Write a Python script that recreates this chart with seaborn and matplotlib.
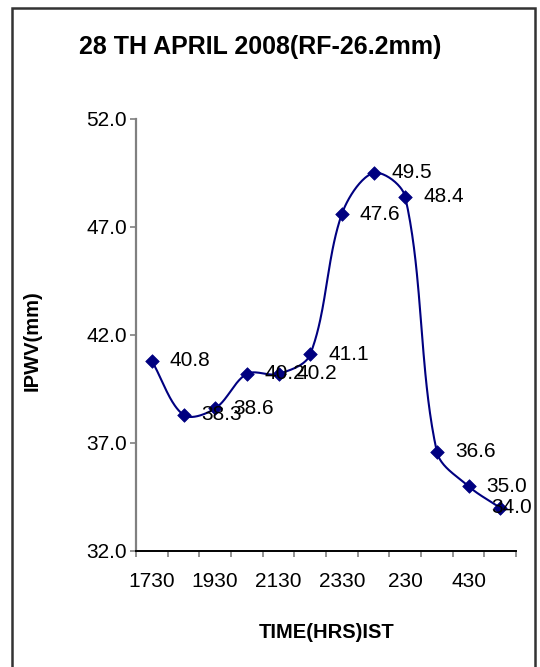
import numpy as np
import pandas as pd
import seaborn as sns
import matplotlib
matplotlib.use("Agg")
import matplotlib.pyplot as plt
from matplotlib.patches import Rectangle

# Observation times (IST) and integrated precipitable water vapour
times = ["1730", "1830", "1930", "2030", "2130", "2230",
         "2330", "130", "230", "330", "430", "530"]
ipwv = [40.8, 38.3, 38.6, 40.2, 40.2, 41.1,
        47.6, 49.5, 48.4, 36.6, 35.0, 34.0]
ytick_values = [32.0, 37.0, 42.0, 47.0, 52.0]

title = "28 TH APRIL 2008(RF-26.2mm)"
xlabel = "TIME(HRS)IST"
ylabel = "IPWV(mm)"

sns.set_theme(style="white")
plt.rcParams["font.family"] = ["Liberation Sans", "DejaVu Sans"]
plt.rcParams.update({"text.color": "black", "axes.labelcolor": "black",
                     "xtick.color": "black", "ytick.color": "black"})

NAVY = "#000080"

df = pd.DataFrame({"pos": np.arange(len(times)), "ipwv": ipwv, "time": times})


def smooth_curve_px(pts, n=40):
    """Length-weighted cubic Bezier smoothing through points given in pixels."""
    p = np.vstack([pts[0], pts, pts[-1]])
    t = np.linspace(0, 1, n)[:, None]
    out = []
    for i in range(1, len(p) - 2):
        p0, p1, p2, p3 = p[i - 1], p[i], p[i + 1], p[i + 2]
        d01 = np.linalg.norm(p1 - p0)
        d12 = np.linalg.norm(p2 - p1)
        d23 = np.linalg.norm(p3 - p2)
        f1 = d12 / (d01 + d12) / 1.5 if d01 + d12 > 0 else 0
        f2 = d12 / (d12 + d23) / 1.5 if d12 + d23 > 0 else 0
        c1 = p1 + (p2 - p0) * f1 / 2
        c2 = p2 - (p3 - p1) * f2 / 2
        b = (1 - t) ** 3 * p1 + 3 * (1 - t) ** 2 * t * c1 \
            + 3 * (1 - t) * t ** 2 * c2 + t ** 3 * p2
        out.append(b)
    return np.vstack(out)


fig = plt.figure(figsize=(5.40, 6.67), dpi=100)
ax = fig.add_axes([136 / 540, 1 - 551 / 667, 380 / 540, 432 / 667])

ax.set_xlim(-0.5, len(times) - 0.5)
ax.set_ylim(32, 52)

# Smooth the series in display space, then map back to data coordinates
pix = ax.transData.transform(np.column_stack([df["pos"], df["ipwv"]]))
curve = ax.transData.inverted().transform(smooth_curve_px(pix))
sns.lineplot(x=curve[:, 0], y=curve[:, 1], ax=ax, color=NAVY, linewidth=1.5,
             sort=False, estimator=None)
sns.scatterplot(data=df, x="pos", y="ipwv", ax=ax, marker="D", s=48,
                color=NAVY, edgecolor=NAVY, linewidth=0.5, zorder=3)

label_dx = [13] * (len(times) - 1) + [-6.5]
for xp, yv, dx in zip(df["pos"], df["ipwv"], label_dx):
    ax.annotate(f"{yv:.1f}", (xp, yv), xytext=(dx, 0), textcoords="offset points",
                ha="left", va="center", fontsize=15, color="black", zorder=4)

ax.set_yticks(ytick_values)
ax.set_yticklabels([f"{v:.1f}" for v in ytick_values], fontsize=15)

# Tick marks sit between categories; labels on every second category
ax.set_xticks(np.arange(-0.5, len(times), 1.0))
ax.set_xticklabels([])
ax.set_xticks(np.arange(0, len(times), 2), minor=True)
ax.set_xticklabels(times[::2], minor=True, fontsize=15)
ax.tick_params(axis="x", which="major", direction="out", length=4.5,
               width=1.2, color="#808080", bottom=True)
ax.tick_params(axis="x", which="minor", length=0, pad=15, labelcolor="black")
ax.tick_params(axis="y", direction="out", length=4.5, width=1.2,
               color="#808080", left=True, pad=2, labelcolor="black")

for side in ["top", "right"]:
    ax.spines[side].set_visible(False)
ax.spines["left"].set_color("#808080")
ax.spines["left"].set_linewidth(1.6)
ax.spines["bottom"].set_color("black")
ax.spines["bottom"].set_linewidth(1.4)

ax.set_xlabel("")
ax.set_ylabel("")
fig.text(260 / 540, 1 - 47 / 667, title, ha="center", va="center",
         fontsize=18, fontweight="bold", color="black")
fig.text(327 / 540, 1 - 633 / 667, xlabel, ha="center", va="center",
         fontsize=14.5, fontweight="bold", color="black")
fig.text(32 / 540, 1 - 341 / 667, ylabel, ha="center", va="center",
         rotation=90, fontsize=14.5, fontweight="bold", color="black")

# Chart frame
fig.patches.append(Rectangle((12 / 540, -0.01), 523 / 540, 1 - 8 / 667 + 0.01,
                             transform=fig.transFigure, fill=False,
                             edgecolor="#333333", linewidth=1.8))

fig.savefig("out.png", dpi=100)
